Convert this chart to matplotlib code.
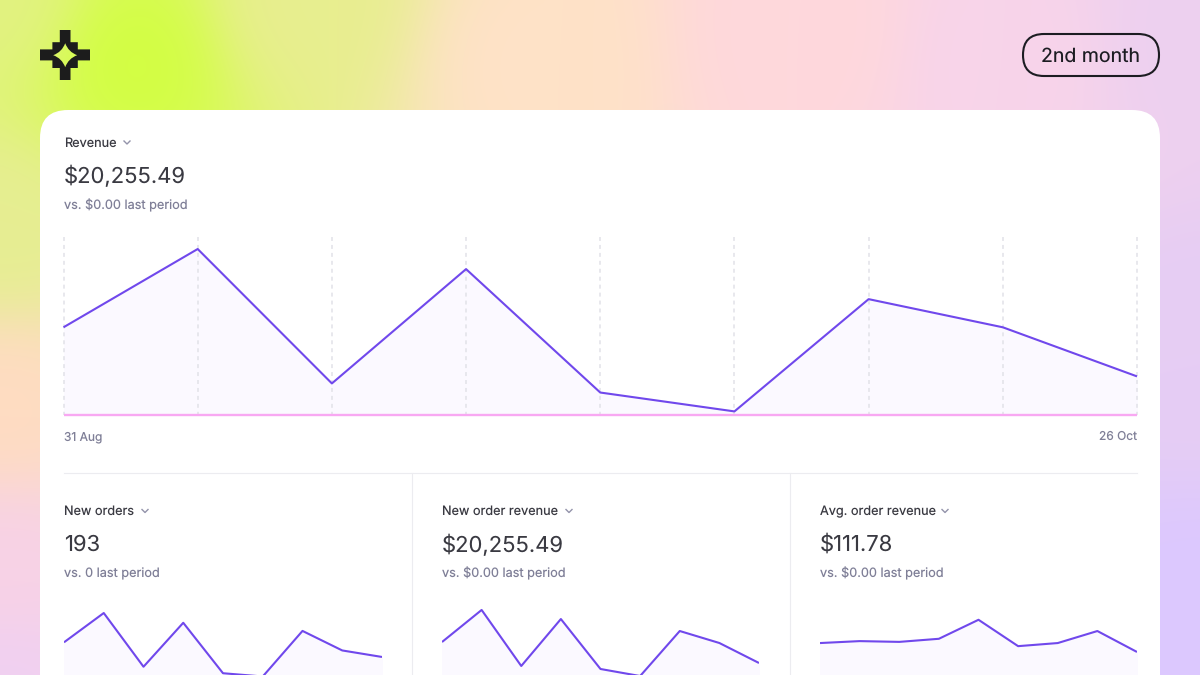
import datetime as dt

import numpy as np
import matplotlib
matplotlib.use("Agg")
import matplotlib.pyplot as plt
from matplotlib.colors import to_rgb
from matplotlib.patches import FancyBboxPatch, PathPatch
from matplotlib.path import Path

plt.rcParams["font.family"] = ["Inter", "DejaVu Sans"]
plt.rcParams["text.hinting"] = "no_hinting"

# data
dates = [dt.date(2023, 8, 31) + dt.timedelta(days=7 * i) for i in range(9)]
date_labels = ["31 Aug", "26 Oct"]
revenue = [2540, 4820, 905, 4235, 640, 90, 3360, 2540, 1110]
revenue_prev = [0, 0, 0, 0, 0, 0, 0, 0, 0]
new_orders = [25, 43, 10, 37, 6, 4, 32, 20, 16]
new_order_revenue = [2530, 4510, 1050, 3950, 865, 430, 3210, 2470, 1235]
avg_order_revenue = [103, 108, 106, 114, 163, 95, 103, 134, 80]

small_titles = ["New orders", "New order revenue", "Avg. order revenue"]
small_totals = ["193", "$20,255.49", "$111.78"]
small_prev = ["vs. 0 last period", "vs. $0.00 last period", "vs. $0.00 last period"]

W, H = 1200, 675
INK = "#3a3a42"
MUTED = "#7f7f97"
PURPLE = "#7048ec"
FILL = "#fbf9ff"
PINK = "#f8a8f2"
RULE = "#ececf0"

fig = plt.figure(figsize=(W / 100, H / 100), dpi=100)


def px_axes(left, top, right, bottom, **kw):
    return fig.add_axes([left / W, 1 - bottom / H, (right - left) / W, (bottom - top) / H], **kw)


def px(size):
    return size * 0.72


# background, all in pixel coordinates
bg = px_axes(0, 0, W, H)
bg.set_xlim(0, W)
bg.set_ylim(H, 0)
bg.axis("off")

anchors = [
    (130, 60, "#d2ff40"), (0, 0, "#e2f282"), (300, 0, "#e8ee90"), (530, 60, "#ffe2c8"),
    (0, 230, "#e6ee92"), (0, 400, "#ffdcc2"), (0, 570, "#f8d2e6"), (0, 675, "#f0d0f2"),
    (800, 30, "#ffd8dc"), (1000, 60, "#f8d4ea"), (1200, 40, "#edd0f0"),
    (1200, 350, "#e6cdf4"), (1200, 620, "#dcc8ff"), (700, 675, "#ecd0f0"),
]
gx, gy = np.meshgrid(np.arange(0, W, 4), np.arange(0, H, 4))
weights = np.stack([1 / ((gx - a[0]) ** 2 + (gy - a[1]) ** 2 + 70.0 ** 2) ** 2 for a in anchors])
weights /= weights.sum(axis=0)
cols = np.array([to_rgb(a[2]) for a in anchors])
img = np.tensordot(weights, cols, axes=(0, 0))
bg.imshow(img, extent=(0, W, H, 0), aspect="auto", interpolation="bicubic", zorder=0)

# logo, plus with a four point star cut out
arm = [(59.8, 30), (70.5, 30), (70.5, 42.2), (77.8, 42.2), (77.8, 49.4), (90, 49.4), (90, 60.4), (77.8, 60.4),
       (77.8, 68), (70.5, 68), (70.5, 80), (59.8, 80), (59.8, 68), (52.4, 68), (52.4, 60.4), (40, 60.4),
       (40, 49.4), (52.4, 49.4), (52.4, 42.2), (59.8, 42.2), (59.8, 30)]
cx, cy, r, c = 65.2, 55.2, 12.0, 3.2
star_v = [(cx, cy - r), (cx - c, cy - c), (cx - r, cy), (cx - c, cy + c), (cx, cy + r),
          (cx + c, cy + c), (cx + r, cy), (cx + c, cy - c), (cx, cy - r)]
star_c = [Path.MOVETO] + [Path.CURVE3] * 8
arm_c = [Path.MOVETO] + [Path.LINETO] * (len(arm) - 1)
bg.add_patch(PathPatch(Path(arm + star_v, arm_c + star_c), fc="#1c1c1c", ec="none", zorder=2))

# pill
bg.add_patch(FancyBboxPatch((1023 + 21, 34 + 21), 136 - 42, 0, boxstyle="round,pad=21,rounding_size=21",
                            fc="none", ec="#1c1c22", lw=1.5, zorder=2))
bg.text(1091, 56.5, "2nd month", fontsize=px(19.5), color="#1c1c22", ha="center", va="center", zorder=3)

# card
bg.add_patch(FancyBboxPatch((68, 138), 1064, 700, boxstyle="round,pad=28,rounding_size=28",
                            fc="white", ec="none", zorder=1))
bg.plot([64, 1137], [473, 473], color=RULE, lw=0.8, zorder=2)
bg.plot([411.5, 411.5], [473, H], color=RULE, lw=0.8, zorder=2)
bg.plot([789.5, 789.5], [473, H], color=RULE, lw=0.8, zorder=2)


def header(x, y, title, total, prev, chevron_x):
    bg.text(x, y + 1, title, fontsize=px(12.7), color=INK, va="center", zorder=3)
    bg.plot([chevron_x - 3, chevron_x, chevron_x + 3], [y - 1, y + 2, y - 1], color="#9393aa", lw=1, zorder=3)
    bg.text(x, y + 34.8, total, fontsize=px(22), color=INK, va="center", zorder=3)
    bg.text(x, y + 63, prev, fontsize=px(12.7), color=MUTED, va="center", zorder=3)


header(64, 142, "Revenue", "$20,255.49", "vs. $0.00 last period", 127)

# main chart
ax = px_axes(63.5, 237, 1137, 414.5, facecolor="none")
ax.fill_between(dates, revenue, color=FILL, zorder=1)
ax.vlines(dates, 5170, 0, color="#e2e2e8", lw=1.1, linestyles=(0, (2.6, 2.6)), zorder=2, clip_on=False)
ax.plot(dates, revenue_prev, color=PINK, lw=1.7, zorder=3, clip_on=False, solid_capstyle="butt")
ax.plot(dates, revenue, color=PURPLE, lw=1.5, zorder=4, clip_on=False, solid_capstyle="butt")
ax.set_xlim(dates[0], dates[-1])
ax.set_ylim(0, 5170)
ax.set_yticks([])
ax.set_xticks([dates[0], dates[-1]])
ax.set_xticklabels(date_labels, fontsize=px(12), color=MUTED)
ax.get_xticklabels()[0].set_ha("left")
ax.get_xticklabels()[1].set_ha("right")
ax.tick_params(axis="x", length=0, pad=12)
for s in ax.spines.values():
    s.set_visible(False)

# small charts, bottom runs off the card
small_series = [new_orders, new_order_revenue, avg_order_revenue]
small_left = [64, 442, 820]
small_right = [382, 759, 1137]
small_top = [51, 5125, 214]
chevrons = [145, 569, 945]
for i in range(3):
    header(small_left[i], 510.5, small_titles[i], small_totals[i], small_prev[i], chevrons[i])
    a = px_axes(small_left[i], 600, small_right[i], 683, facecolor="none")
    a.fill_between(dates, small_series[i], color=FILL, zorder=1)
    a.plot(dates, small_series[i], color=PURPLE, lw=1.5, zorder=3, solid_capstyle="butt")
    a.set_xlim(dates[0], dates[-1])
    a.set_ylim(0, small_top[i])
    a.axis("off")

fig.savefig("out.png", dpi=100)
